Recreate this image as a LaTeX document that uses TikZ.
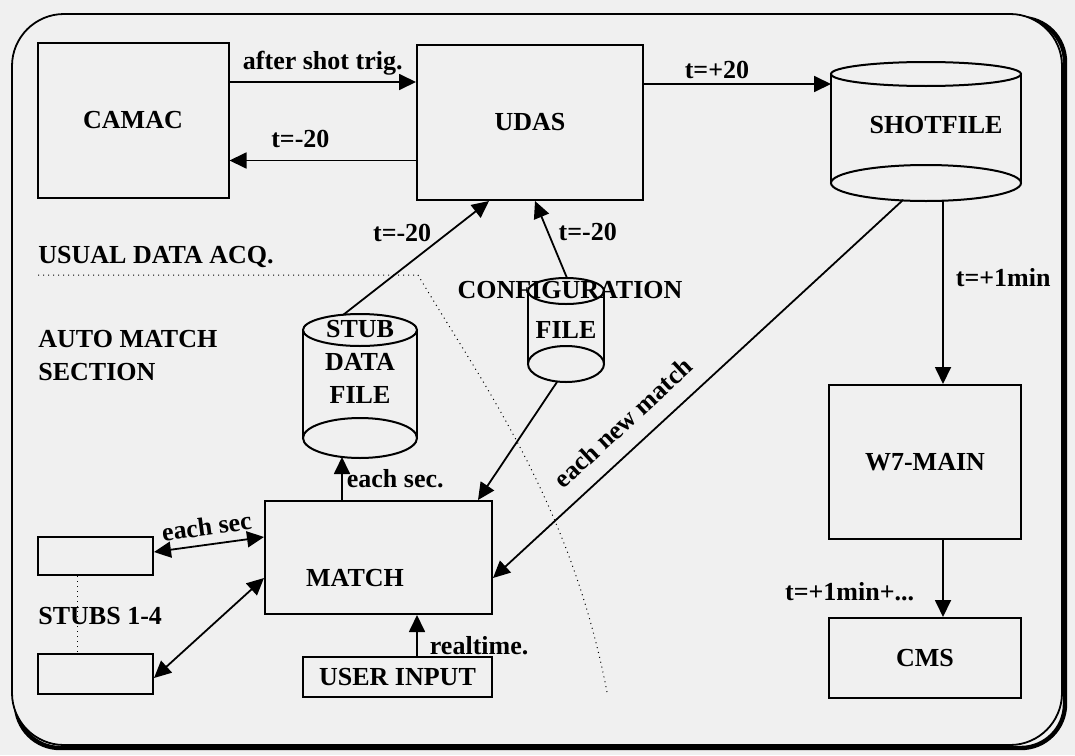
\documentclass[tikz,border=0pt]{standalone}
\usepackage{fontspec}
\setmainfont{Liberation Serif}
\usetikzlibrary{arrows.meta,positioning}

\begin{document}
\begin{tikzpicture}[x=0.5pt, y=-0.5pt,
    lbl/.style={font=\fontsize{13}{16.5}\selectfont\bfseries, inner sep=0pt},
    blk/.style={lbl, draw, line width=1pt},
    arr/.style={line width=0.9pt, -{Triangle[length=8.5pt,width=8pt]}},
    darr/.style={line width=0.9pt, {Triangle[length=8.5pt,width=8pt]}-{Triangle[length=8.5pt,width=8pt]}},
    cyl/.style={line width=1pt}]
        \useasboundingbox (0,0) rectangle (1075,755);
        \fill[black!6] (0,0) rectangle (1075,755);
        % frame with shadow
        \draw[line width=2.2pt, rounded corners=22pt] (16,18) rectangle (1065,748);
        \draw[fill=black!6, line width=0.9pt, rounded corners=26pt] (12,14) rectangle (1062,745);

        % boxes
        \node[blk, minimum width=95.5pt, minimum height=77.5pt] (camac) at (133,120) {CAMAC};
        \node[blk, minimum width=113pt, minimum height=77.5pt] (udas) at (530,122.5) {UDAS};
        \node[blk, minimum width=96pt, minimum height=77pt] (w7) at (925,462) {W7-MAIN};
        \node[blk, minimum width=96pt, minimum height=40pt] (cms) at (925,658) {CMS};
        \node[blk, minimum width=113.5pt, minimum height=56.5pt] (match) at (378.5,557.5) {};
        \node[lbl] (matchtxt) at (355,578) {MATCH};
        \node[blk, minimum width=94.5pt, minimum height=20pt] (user) at (397.5,677) {USER INPUT};
        \node[blk, minimum width=57.5pt, minimum height=19pt] (stubA) at (95.5,556) {};
        \node[blk, minimum width=57.5pt, minimum height=20pt] (stubB) at (95.5,674) {};

        % shotfile
        \draw[cyl] (831,74) -- (831,183) (1021,74) -- (1021,183);
        \draw[cyl] (926,74) ellipse (47.5pt and 6pt);
        \draw[cyl] (926,183) ellipse (47.5pt and 9pt);
        \node[lbl] (shotfile) at (936,125) {SHOTFILE};
        \coordinate (shotW) at (831,84);
        \coordinate (shotS) at (943,201);
        \coordinate (shotSW) at (903,200);

        % stub data file
        \draw[cyl] (303,330) -- (303,438) (417,330) -- (417,438);
        \draw[cyl] (360,330) ellipse (28.5pt and 8pt);
        \draw[cyl] (360,438) ellipse (28.5pt and 10pt);
        \node[lbl, align=center] (stubfile) at (360,362) {STUB\\DATA\\FILE};
        \coordinate (stubT) at (343,315);
        \coordinate (stubS) at (342,457);

        % configuration file
        \draw[cyl] (528,291) -- (528,364) (604,291) -- (604,364);
        \draw[cyl] (566,291) ellipse (19pt and 6.5pt);
        \draw[cyl] (566,364) ellipse (19pt and 9pt);
        \node[lbl] (config) at (570,290) {CONFIGURATION};
        \node[lbl] (configfile) at (566,330) {FILE};
        \coordinate (cfgT) at (567,278);
        \coordinate (cfgS) at (557,382);

        % left side texts
        \node[lbl, anchor=west] (usual) at (38,257) {USUAL DATA ACQ.};
        \node[lbl, anchor=west, align=left] (auto) at (38,356) {AUTO MATCH\\SECTION};
        \node[lbl, anchor=west] (stubs) at (38,616) {STUBS 1-4};
        \draw[dotted, line width=0.5pt] (38,275) -- (418,275)
        .. controls (480,380) and (570,500) .. (607,692);
        \draw[dotted, line width=0.5pt] (stubA.south -| 77,0) -- (stubB.north -| 77,0);

        % connectors
        \draw[arr] ([yshift=19pt]camac.east) -- ([yshift=19pt]camac.east -| udas.west)
        node[lbl, midway, above=3pt] {after shot trig.};
        \draw[arr] ([yshift=-19pt]udas.west) -- ([yshift=-19pt]udas.west -| camac.east)
        node[lbl, pos=0.62, above=6pt] {t=-20};
        \draw[arr] (udas.east |- shotW) -- (shotW)
        node[lbl, pos=0.39, above=2pt] {t=+20};
        \draw[arr] (shotS) -- (shotS |- w7.north)
        node[lbl, pos=0.42, right=6pt] {t=+1min};
        \draw[arr] (w7.south -| shotS) -- (cms.north -| shotS)
        node[lbl, pos=0.67, left=14pt] {t=+1min+...};
        \draw[arr] (shotSW) -- ([yshift=-10.25pt]match.east)
        node[lbl, pos=0.64, sloped, above=8pt] {each new match};
        \draw[arr] (stubT) -- ([xshift=-20.5pt]udas.south)
        node[lbl, pos=0.72, left=8pt] {t=-20};
        \draw[arr] (cfgT) -- ([xshift=2.5pt]udas.south)
        node[lbl, pos=0.6, right=5pt] {t=-20};
        \draw[arr] (cfgS) -- ([xshift=49.75pt]match.north);
        \draw[arr] (match.north -| stubS) -- (stubS)
        node[lbl, midway, right=2pt] {each sec.};
        \draw[darr] ([yshift=2pt]stubA.east) -- ([yshift=10.25pt]match.west)
        node[lbl, midway, sloped, above=4pt] {each sec};
        \draw[darr] ([yshift=-2pt]stubB.east) -- ([yshift=-10.25pt]match.west);
        \draw[arr] ([xshift=9.75pt]user.north) -- ([xshift=9.75pt]user.north |- match.south)
        node[lbl, pos=0.25, right=6pt] {realtime.};
      \end{tikzpicture}
\end{document}
